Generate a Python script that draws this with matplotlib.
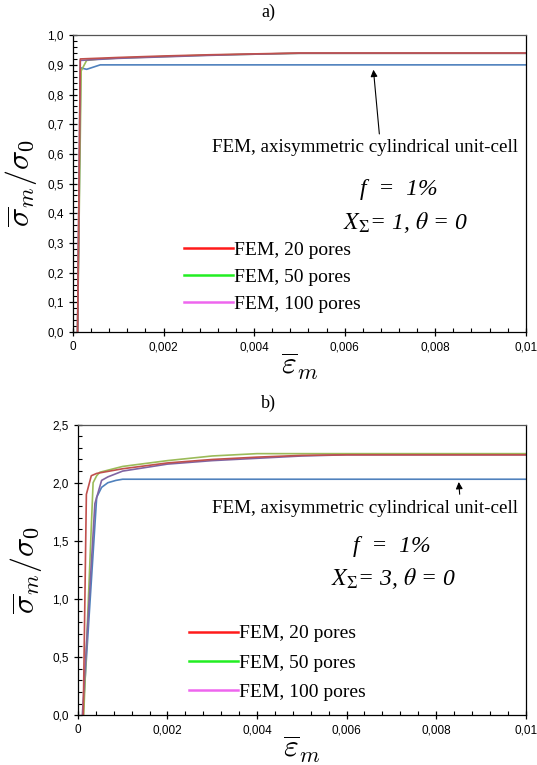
import matplotlib
matplotlib.use("Agg")
import matplotlib.pyplot as plt
from matplotlib.lines import Line2D
import numpy as np

plt.rcParams['font.family'] = ['Liberation Sans', 'DejaVu Sans']
plt.rcParams['mathtext.fontset'] = 'cm'

# panel a) X_Sigma = 1
a_red_x = [0.0001, 0.00016, 0.0005, 0.001, 0.002, 0.003, 0.004, 0.005, 0.01]
a_red_y = [0.0, 0.92, 0.922, 0.925, 0.93, 0.934, 0.937, 0.94, 0.94]
a_green_x = [0.0001, 0.00018, 0.0003, 0.0006, 0.001, 0.002, 0.003, 0.004, 0.005, 0.01]
a_green_y = [0.0, 0.88, 0.915, 0.92, 0.923, 0.928, 0.933, 0.936, 0.939, 0.939]
a_purple_x = [0.0001, 0.00016, 0.0005, 0.001, 0.002, 0.003, 0.004, 0.005, 0.01]
a_purple_y = [0.0, 0.915, 0.918, 0.922, 0.927, 0.932, 0.936, 0.939, 0.939]
a_blue_x = [0.0001, 0.00017, 0.0003, 0.0006, 0.01]
a_blue_y = [0.0, 0.89, 0.885, 0.90, 0.90]

# panel b) X_Sigma = 3
b_red_x = [0.00012, 0.00019, 0.0003, 0.00042, 0.001, 0.002, 0.003, 0.004, 0.005, 0.006, 0.01]
b_red_y = [0.0, 1.9, 2.06, 2.08, 2.12, 2.17, 2.2, 2.22, 2.235, 2.24, 2.24]
b_green_x = [0.00013, 0.00034, 0.00042, 0.00049, 0.001, 0.002, 0.003, 0.004, 0.01]
b_green_y = [0.0, 2.0, 2.06, 2.09, 2.14, 2.19, 2.23, 2.25, 2.25]
b_purple_x = [0.0001, 0.00038, 0.00053, 0.00067, 0.001, 0.002, 0.003, 0.004, 0.005, 0.006, 0.01]
b_purple_y = [0.0, 1.82, 2.02, 2.05, 2.1, 2.16, 2.19, 2.21, 2.23, 2.24, 2.24]
b_blue_x = [0.00011, 0.00042, 0.00053, 0.00067, 0.00085, 0.001, 0.01]
b_blue_y = [0.0, 1.875, 1.96, 2.0, 2.02, 2.03, 2.03]

legend_labels = ["FEM, 20 pores", "FEM, 50 pores", "FEM, 100 pores"]
legend_colors = ["#ff1a1a", "#22ee22", "#ee66ee"]

x_ticks = [0, 0.002, 0.004, 0.006, 0.008, 0.01]
x_ticklabels = ["0", "0,002", "0,004", "0,006", "0,008", "0,01"]
a_yticks = np.arange(0, 1.01, 0.1)
a_yticklabels = ["0,0", "0,1", "0,2", "0,3", "0,4", "0,5", "0,6", "0,7", "0,8", "0,9", "1,0"]
b_yticks = np.arange(0, 2.51, 0.5)
b_yticklabels = ["0,0", "0,5", "1,0", "1,5", "2,0", "2,5"]

c_red = "#c0504d"
c_green = "#9bbb59"
c_purple = "#8064a2"
c_blue = "#4f81bd"

fig = plt.figure(figsize=(5.37, 7.65), dpi=100)
ax1 = fig.add_axes([0.136, 0.566, 0.843, 0.388])
ax2 = fig.add_axes([0.145, 0.065, 0.834, 0.380])

serif = ['Liberation Serif', 'DejaVu Serif']


def style_axes(ax, yticks, yticklabels, ymax, yminor):
    ax.set_xlim(0, 0.01)
    ax.set_ylim(0, ymax)
    ax.set_xticks(x_ticks)
    ax.set_xticklabels(x_ticklabels)
    ax.set_xticks(np.arange(0, 0.01001, 0.0004), minor=True)
    ax.set_yticks(yticks)
    ax.set_yticklabels(yticklabels)
    ax.set_yticks(np.arange(0, ymax + 1e-9, yminor), minor=True)
    ax.tick_params(which='major', direction='inout', length=6, width=0.9, labelsize=8.5)
    ax.tick_params(which='minor', direction='in', length=3, width=0.8)
    for s in ax.spines.values():
        s.set_linewidth(0.9)
    ax.spines['top'].set_color('#555555')
    ax.set_xlabel(r"$\overline{\varepsilon}_m$", fontsize=23, labelpad=-2)
    ax.set_ylabel(r"$\overline{\sigma}_m/\sigma_0$", fontsize=23, labelpad=6)


def add_legend(ax, anchor, spacing):
    handles = [Line2D([], [], color=c, lw=1.8) for c in legend_colors]
    ax.legend(handles, legend_labels, loc='upper left', bbox_to_anchor=anchor,
              frameon=False, handlelength=2.5, handletextpad=0.05,
              labelspacing=spacing, borderaxespad=0,
              prop={'family': serif, 'size': 14})


# panel a
ax1.plot(a_blue_x, a_blue_y, color=c_blue, lw=1.2)
ax1.plot(a_green_x, a_green_y, color=c_green, lw=1.2)
ax1.plot(a_purple_x, a_purple_y, color=c_purple, lw=1.2)
ax1.plot(a_red_x, a_red_y, color=c_red, lw=1.2)
style_axes(ax1, a_yticks, a_yticklabels, 1.0, 0.02)
add_legend(ax1, (0.228, 0.331), 0.48)
ax1.annotate("FEM, axisymmetric cylindrical unit-cell", xy=(0.00663, 0.893),
             xytext=(0.00306, 0.62), textcoords='data', va='center', ha='left',
             family=serif, fontsize=13.7,
             arrowprops=dict(arrowstyle='-|>', color='black', lw=0.8,
                             mutation_scale=10, relpos=(0.55, 1.0)))
ax1.text(0.72, 0.48, "f  =  1%", transform=ax1.transAxes, ha='center', va='center',
         family=serif, style='italic', fontsize=17)
ax1.text(0.735, 0.37, r"$X_{\Sigma}$= 1, $\theta$ = 0", transform=ax1.transAxes,
         ha='center', va='center', family=serif, style='italic', fontsize=17,
         math_fontfamily='stix')

# panel b
ax2.plot(b_blue_x, b_blue_y, color=c_blue, lw=1.2)
ax2.plot(b_green_x, b_green_y, color=c_green, lw=1.2)
ax2.plot(b_purple_x, b_purple_y, color=c_purple, lw=1.2)
ax2.plot(b_red_x, b_red_y, color=c_red, lw=1.2)
style_axes(ax2, b_yticks, b_yticklabels, 2.5, 0.1)
add_legend(ax2, (0.231, 0.338), 0.6)
ax2.annotate("FEM, axisymmetric cylindrical unit-cell", xy=(0.0085, 2.03),
             xytext=(0.003, 1.78), textcoords='data', va='center', ha='left',
             family=serif, fontsize=13.7,
             arrowprops=dict(arrowstyle='-|>', color='black', lw=0.8,
                             mutation_scale=10, relpos=(0.81, 1.0)))
ax2.text(0.70, 0.58, "f  =  1%", transform=ax2.transAxes, ha='center', va='center',
         family=serif, style='italic', fontsize=17)
ax2.text(0.705, 0.47, r"$X_{\Sigma}$= 3, $\theta$ = 0", transform=ax2.transAxes,
         ha='center', va='center', family=serif, style='italic', fontsize=17,
         math_fontfamily='stix')

fig.text(0.5, 1 - 12 / 765, "a)", ha='center', va='center', family=serif, fontsize=13)
fig.text(0.5, 1 - 403 / 765, "b)", ha='center', va='center', family=serif, fontsize=13)

fig.savefig("out.png", dpi=100)
